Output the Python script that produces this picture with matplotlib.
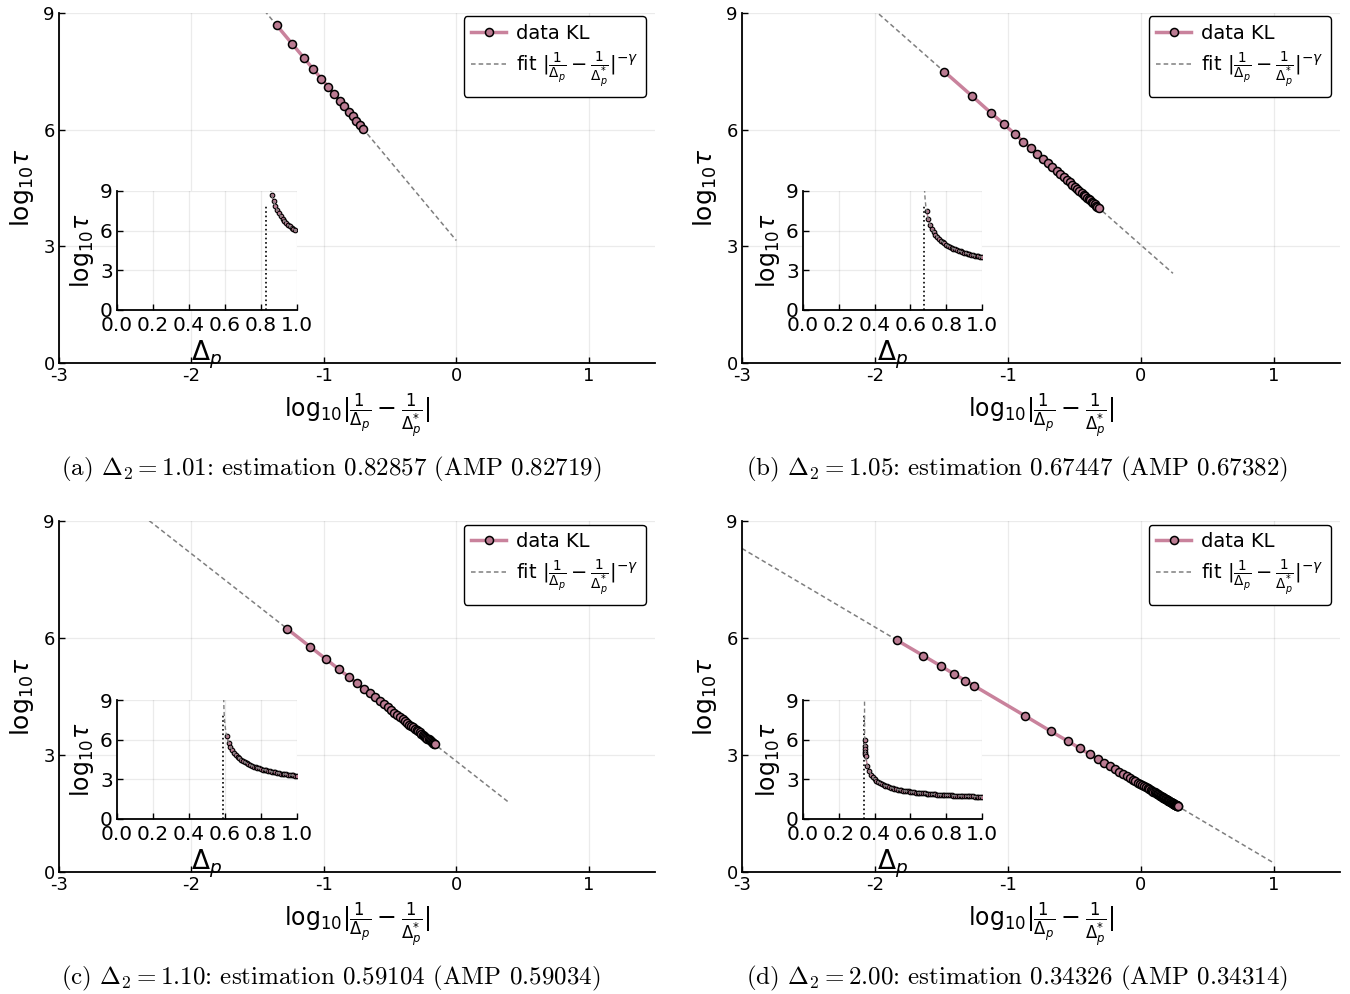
import numpy as np
import matplotlib
matplotlib.use('Agg')
import matplotlib.pyplot as plt

plt.rcParams['axes.unicode_minus'] = False
plt.rcParams['mathtext.fontset'] = 'dejavusans'

# panel data: Delta_p grid and log10(tau)
dp_a = [0.86, 0.87, 0.88, 0.89, 0.90, 0.91, 0.92, 0.93, 0.94, 0.95, 0.96, 0.97, 0.98, 0.99]
logtau_a = [8.68, 8.21, 7.85, 7.55, 7.31, 7.09, 6.91, 6.74, 6.60, 6.46, 6.34, 6.23, 6.13, 6.03]

dp_b = [0.69, 0.70, 0.71, 0.72, 0.73, 0.74, 0.75, 0.76, 0.77, 0.78, 0.79, 0.80, 0.81, 0.82, 0.83, 0.84,
        0.85, 0.86, 0.87, 0.88, 0.89, 0.90, 0.91, 0.92, 0.93, 0.94, 0.95, 0.96, 0.97, 0.98, 0.99, 1.00]
logtau_b = [7.49, 6.86, 6.44, 6.14, 5.89, 5.69, 5.53, 5.38, 5.25, 5.14, 5.04, 4.95, 4.86, 4.79, 4.71, 4.65,
            4.59, 4.53, 4.48, 4.43, 4.38, 4.33, 4.29, 4.25, 4.21, 4.18, 4.14, 4.11, 4.08, 4.05, 4.02, 3.99]

dp_c = [0.61, 0.62, 0.63, 0.64, 0.65, 0.66, 0.67, 0.68, 0.69, 0.70, 0.71, 0.72, 0.73, 0.74, 0.75, 0.76,
        0.77, 0.78, 0.79, 0.80, 0.81, 0.82, 0.83, 0.84, 0.85, 0.86, 0.87, 0.88, 0.89, 0.90, 0.91, 0.92,
        0.93, 0.94, 0.95, 0.96, 0.97, 0.98, 0.99, 1.00]
logtau_c = [6.24, 5.77, 5.45, 5.20, 5.01, 4.84, 4.70, 4.58, 4.48, 4.38, 4.30, 4.22, 4.15, 4.08, 4.03, 3.97,
            3.92, 3.87, 3.83, 3.78, 3.74, 3.71, 3.67, 3.64, 3.61, 3.58, 3.55, 3.52, 3.49, 3.47, 3.44, 3.42,
            3.40, 3.38, 3.36, 3.34, 3.32, 3.30, 3.28, 3.27]

dp_d = [0.345, 0.346, 0.347, 0.348, 0.349, 0.350,
        0.36, 0.37, 0.38, 0.39, 0.40, 0.41, 0.42, 0.43, 0.44, 0.45, 0.46, 0.47, 0.48, 0.49, 0.50,
        0.51, 0.52, 0.53, 0.54, 0.55, 0.56, 0.57, 0.58, 0.59, 0.60, 0.61, 0.62, 0.63, 0.64, 0.65,
        0.66, 0.67, 0.68, 0.69, 0.70, 0.71, 0.72, 0.73, 0.74, 0.75, 0.76, 0.77, 0.78, 0.79, 0.80,
        0.81, 0.82, 0.83, 0.84, 0.85, 0.86, 0.87, 0.88, 0.89, 0.90, 0.91, 0.92, 0.93, 0.94, 0.95,
        0.96, 0.97, 0.98, 0.99, 1.00]
logtau_d = [5.94, 5.55, 5.28, 5.07, 4.91, 4.77,
            4.00, 3.61, 3.36, 3.17, 3.02, 2.90, 2.80, 2.72, 2.64, 2.57, 2.51, 2.46, 2.41, 2.37, 2.33,
            2.29, 2.26, 2.23, 2.20, 2.17, 2.15, 2.12, 2.10, 2.08, 2.06, 2.04, 2.02, 2.00, 1.99, 1.97,
            1.96, 1.94, 1.93, 1.92, 1.90, 1.89, 1.88, 1.87, 1.86, 1.85, 1.84, 1.83, 1.82, 1.81, 1.80,
            1.80, 1.79, 1.78, 1.77, 1.77, 1.76, 1.75, 1.75, 1.74, 1.73, 1.73, 1.72, 1.72, 1.71, 1.71,
            1.70, 1.70, 1.69, 1.69, 1.68]

panel_tags = ['a', 'b', 'c', 'd']
delta2 = ['1.01', '1.05', '1.10', '2.00']
dstar = [0.82857, 0.67447, 0.59104, 0.34326]
amp = ['0.82719', '0.67382', '0.59034', '0.34314']
# fit log10 tau = const - gamma * log10|1/dp - 1/dstar|
fit_gamma = [4.08, 3.013, 2.66, 2.015]
fit_const = [3.15, 3.038, 2.84, 2.25]
fit_xmax = [0.0, 0.243, 0.395, 1.0]

dps = [dp_a, dp_b, dp_c, dp_d]
taus = [logtau_a, logtau_b, logtau_c, logtau_d]

pink = '#c9829c'
mface = '#bb7b92'
fitgray = '#7f7f7f'

fig = plt.figure(figsize=(13.5, 9.94), dpi=100)
W, H = 1350, 994

main_pos = [(59, 13, 596, 350), (742, 13, 598, 350), (59, 521, 596, 351), (742, 521, 598, 351)]
inset_pos = [(117, 191, 180, 119), (803, 191, 179, 119), (117, 700, 180, 119), (803, 700, 179, 119)]
cap_pos = [(331, 469), (1017, 469), (331, 978), (1017, 978)]

xlab = r'$\mathrm{log}_{10}|\frac{1}{\Delta_p} - \frac{1}{\Delta_p^{*}}|$'
ylab = r'$\mathrm{log}_{10}\tau$'


def frac(x, y, w, h):
    return [x / W, 1 - (y + h) / H, w / W, h / H]


def style(ax, lsize):
    for s in ['top', 'right']:
        ax.spines[s].set_visible(False)
    for s in ['left', 'bottom']:
        ax.spines[s].set_linewidth(1.3)
    ax.grid(True, color='k', alpha=0.08, lw=0.9)
    ax.tick_params(direction='in', length=4, width=1, labelsize=lsize, pad=3)


for i in range(4):
    dp = np.array(dps[i])
    lt = np.array(taus[i])
    ds = dstar[i]
    g, c = fit_gamma[i], fit_const[i]
    xs = np.log10(np.abs(1 / dp - 1 / ds))

    ax = fig.add_axes(frac(*main_pos[i]))
    style(ax, 13)
    ax.plot(xs, lt, '-', color=pink, lw=2.5, marker='o', ms=5.8, mfc=mface, mec='k', mew=1.1,
            label='data KL', zorder=3)
    fx = np.array([-3.0, fit_xmax[i]])
    ax.plot(fx, c - g * fx, '--', color=fitgray, lw=1.1, dashes=(3, 2),
            label=r'fit $|\frac{1}{\Delta_p} - \frac{1}{\Delta_p^{*}}|^{-\gamma}$', zorder=2)
    ax.set_xlim(-3, 1.5)
    ax.set_ylim(0, 9)
    ax.set_xticks([-3, -2, -1, 0, 1])
    ax.set_yticks([0, 3, 6, 9])
    ax.set_xlabel(xlab, fontsize=17, labelpad=4)
    ax.set_ylabel(ylab, fontsize=18, labelpad=5)
    leg = ax.legend(loc='upper right', bbox_to_anchor=(0.985, 0.99), borderaxespad=0,
                    fontsize=14, handlelength=1.8, handletextpad=0.5, borderpad=0.4,
                    labelspacing=0.4, frameon=True, fancybox=True)
    leg.get_frame().set_edgecolor('k')
    leg.get_frame().set_linewidth(1.0)
    leg.get_frame().set_alpha(1)

    # inset
    ins = fig.add_axes(frac(*inset_pos[i]))
    style(ins, 14.5)
    ins.set_facecolor('white')
    dfit = np.linspace(ds + 1e-5, 1.0, 600)
    ins.plot(dfit, c - g * np.log10(np.abs(1 / dfit - 1 / ds)), '--', color=fitgray, lw=1.0,
             dashes=(3, 2), zorder=4)
    ins.plot(dp, lt, '-', color=pink, lw=1.0, marker='o', ms=3.3, mfc=mface, mec='k', mew=0.8, zorder=3)
    ins.plot([ds, ds], [0, 8], ':', color='k', lw=1.2, zorder=2)
    ins.set_xlim(0, 1)
    ins.set_ylim(0, 9)
    ins.set_xticks([0, 0.2, 0.4, 0.6, 0.8, 1.0])
    ins.set_xticklabels(['0.0', '0.2', '0.4', '0.6', '0.8', '1.0'])
    ins.set_yticks([0, 3, 6, 9])
    ins.tick_params(axis='x', pad=4)
    ins.tick_params(axis='y', pad=3)
    ins.set_xlabel(r'$\Delta_p$', fontsize=19, labelpad=3)
    ins.set_ylabel(ylab, fontsize=17, labelpad=3)

    cx, cy = cap_pos[i]
    fig.text(cx / W, 1 - cy / H,
             '(%s) $\\Delta_2 = %s$: estimation %.5f (AMP %s)' % (panel_tags[i], delta2[i], ds, amp[i]),
             ha='center', va='center', fontsize=18, family='cmr10', math_fontfamily='cm')

fig.savefig('out.png', dpi=100)
